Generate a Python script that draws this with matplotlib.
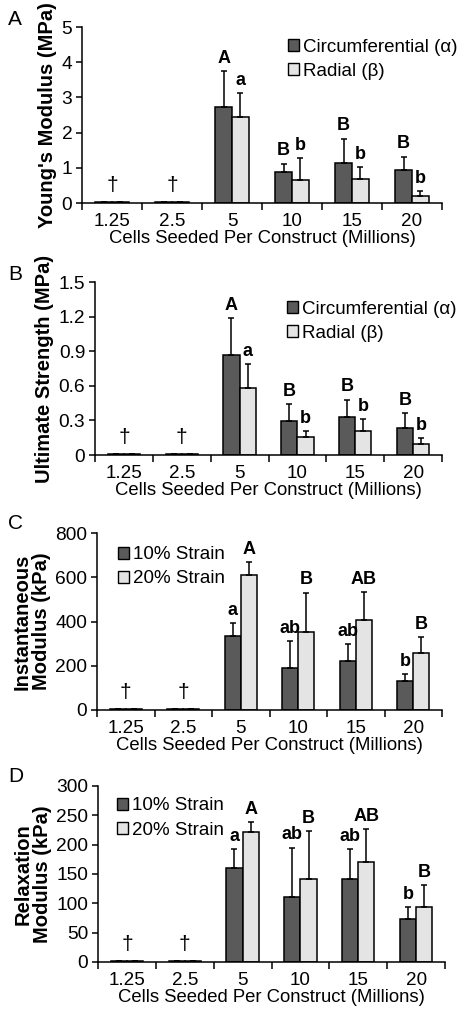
import matplotlib
matplotlib.use("Agg")
import matplotlib.pyplot as plt
import numpy as np
from matplotlib.patches import Patch

plt.rcParams['font.family'] = ['Liberation Sans', 'DejaVu Sans']

categories = ["1.25", "2.5", "5", "10", "15", "20"]

# Panel A: Young's modulus (MPa)
A_circ = [0.02, 0.02, 2.74, 0.89, 1.15, 0.94]
A_circ_err = [0.0, 0.0, 1.01, 0.23, 0.68, 0.38]
A_rad = [0.02, 0.02, 2.45, 0.65, 0.68, 0.21]
A_rad_err = [0.0, 0.0, 0.67, 0.62, 0.35, 0.14]
A_circ_lab = ["", "", "A", "B", "B", "B"]
A_rad_lab = ["", "", "a", "b", "b", "b"]

# Panel B: Ultimate strength (MPa)
B_circ = [0.006, 0.006, 0.87, 0.294, 0.326, 0.236]
B_circ_err = [0.0, 0.0, 0.32, 0.146, 0.154, 0.124]
B_rad = [0.006, 0.006, 0.585, 0.153, 0.21, 0.092]
B_rad_err = [0.0, 0.0, 0.205, 0.057, 0.10, 0.053]
B_circ_lab = ["", "", "A", "B", "B", "B"]
B_rad_lab = ["", "", "a", "b", "b", "b"]

# Panel C: Instantaneous modulus (kPa)
C_10 = [4, 4, 334, 189, 221, 132]
C_10_err = [0, 0, 60, 124, 78, 30]
C_20 = [4, 4, 612, 352, 409, 257]
C_20_err = [0, 0, 57, 179, 125, 71]
C_10_lab = ["", "", "a", "ab", "ab", "b"]
C_20_lab = ["", "", "A", "B", "AB", "B"]

# Panel D: Relaxation modulus (kPa)
D_10 = [1.5, 1.5, 161, 110, 141, 73]
D_10_err = [0, 0, 32, 85, 52, 20]
D_20 = [1.5, 1.5, 221, 142, 171, 93]
D_20_err = [0, 0, 17, 81, 56, 38]
D_10_lab = ["", "", "a", "ab", "ab", "b"]
D_20_lab = ["", "", "A", "B", "AB", "B"]

dagger_lab = ["\u2020", "\u2020", "", "", "", ""]

legend_AB = ["Circumferential (\u03b1)", "Radial (\u03b2)"]
legend_CD = ["10% Strain", "20% Strain"]

xlabel = "Cells Seeded Per Construct (Millions)"

W, H = 467, 1023
fig = plt.figure(figsize=(W / 100, H / 100), dpi=100)

def rect(l, r, t, b):
    return [l / W, 1 - b / H, (r - l) / W, (b - t) / H]

DARK = "#5a5a5a"
LIGHT = "#e4e4e4"
FS = 13.3

def panel(pos, s1, e1, s2, e2, lab1, lab2, ymax, yticks, yticklabels,
          ylabel, leg_labels, leg_anchor, plabel, plabel_xy):
    ax = fig.add_axes(rect(*pos))
    x = np.arange(len(categories))
    w = 0.28
    ax.bar(x - w / 2, s1, w, color=DARK, edgecolor="black", linewidth=1.1,
           yerr=[np.zeros(len(e1)), e1], error_kw=dict(ecolor="black", elinewidth=1.1,
                                                      capsize=2.5, capthick=1.1), zorder=2)
    ax.bar(x + w / 2, s2, w, color=LIGHT, edgecolor="black", linewidth=1.1,
           yerr=[np.zeros(len(e2)), e2], error_kw=dict(ecolor="black", elinewidth=1.1,
                                                      capsize=2.5, capthick=1.1), zorder=2)
    for i in range(len(categories)):
        if lab1[i]:
            ax.annotate(lab1[i], (x[i] - w / 2, s1[i] + e1[i]), xytext=(0, 3),
                        textcoords="offset points", ha="center", va="bottom",
                        fontsize=13, fontweight="bold")
        if lab2[i]:
            ax.annotate(lab2[i], (x[i] + w / 2, s2[i] + e2[i]), xytext=(0, 3),
                        textcoords="offset points", ha="center", va="bottom",
                        fontsize=13, fontweight="bold")
        if dagger_lab[i]:
            ax.annotate(dagger_lab[i], (x[i], max(s1[i], s2[i])), xytext=(0, 5),
                        textcoords="offset points", ha="center", va="bottom",
                        fontsize=15)
    ax.set_xlim(-0.5, len(categories) - 0.5)
    ax.set_ylim(0, ymax)
    ax.set_yticks(yticks)
    ax.set_yticklabels(yticklabels, fontsize=FS + 0.5)
    ax.set_xticks(np.arange(len(categories) + 1) - 0.5)
    ax.set_xticklabels([])
    ax.set_xticks(x, minor=True)
    ax.set_xticklabels(categories, minor=True, fontsize=FS + 0.3)
    ax.tick_params(axis="x", which="major", direction="out", length=5, width=1.1)
    ax.tick_params(axis="x", which="minor", length=0, pad=7)
    ax.tick_params(axis="y", direction="out", length=4, width=1.1, pad=3)
    for s in ["top", "right"]:
        ax.spines[s].set_visible(False)
    for s in ["left", "bottom"]:
        ax.spines[s].set_linewidth(1.1)
    ax.set_xlabel(xlabel, fontsize=FS, labelpad=0)
    ax.set_ylabel(ylabel, fontsize=14.5, fontweight="bold", labelpad=3,
                  linespacing=1.05)
    handles = [Patch(facecolor=DARK, edgecolor="black", linewidth=1.0),
               Patch(facecolor=LIGHT, edgecolor="black", linewidth=1.0)]
    ax.legend(handles, leg_labels, loc="upper left", bbox_to_anchor=leg_anchor,
              frameon=False, fontsize=13.5, handlelength=0.6, handleheight=0.6,
              handletextpad=0.2, labelspacing=0.38, borderaxespad=0,
              borderpad=0)
    fig.text(plabel_xy[0] / W, 1 - plabel_xy[1] / H, plabel, fontsize=15,
             ha="left", va="top")
    return ax

panel((82, 442, 27, 203), A_circ, A_circ_err, A_rad, A_rad_err, A_circ_lab, A_rad_lab,
      5, [0, 1, 2, 3, 4, 5], ["0", "1", "2", "3", "4", "5"],
      "Young's Modulus (MPa)", legend_AB, (0.572, 0.933), "A", (8, 10))

panel((95, 442, 282, 455), B_circ, B_circ_err, B_rad, B_rad_err, B_circ_lab, B_rad_lab,
      1.5, [0, 0.3, 0.6, 0.9, 1.2, 1.5], ["0", "0.3", "0.6", "0.9", "1.2", "1.5"],
      "Ultimate Strength (MPa)", legend_AB, (0.553, 0.893), "B", (8, 265))

panel((97, 442, 533, 710), C_10, C_10_err, C_20, C_20_err, C_10_lab, C_20_lab,
      800, [0, 200, 400, 600, 800], ["0", "200", "400", "600", "800"],
      "Instantaneous\nModulus (kPa)", legend_CD, (0.061, 0.925), "C", (8, 514))

panel((98, 445, 786, 962), D_10, D_10_err, D_20, D_20_err, D_10_lab, D_20_lab,
      300, [0, 50, 100, 150, 200, 250, 300], ["0", "50", "100", "150", "200", "250", "300"],
      "Relaxation\nModulus (kPa)", legend_CD, (0.055, 0.935), "D", (8, 767))

fig.savefig("out.png", dpi=100)
